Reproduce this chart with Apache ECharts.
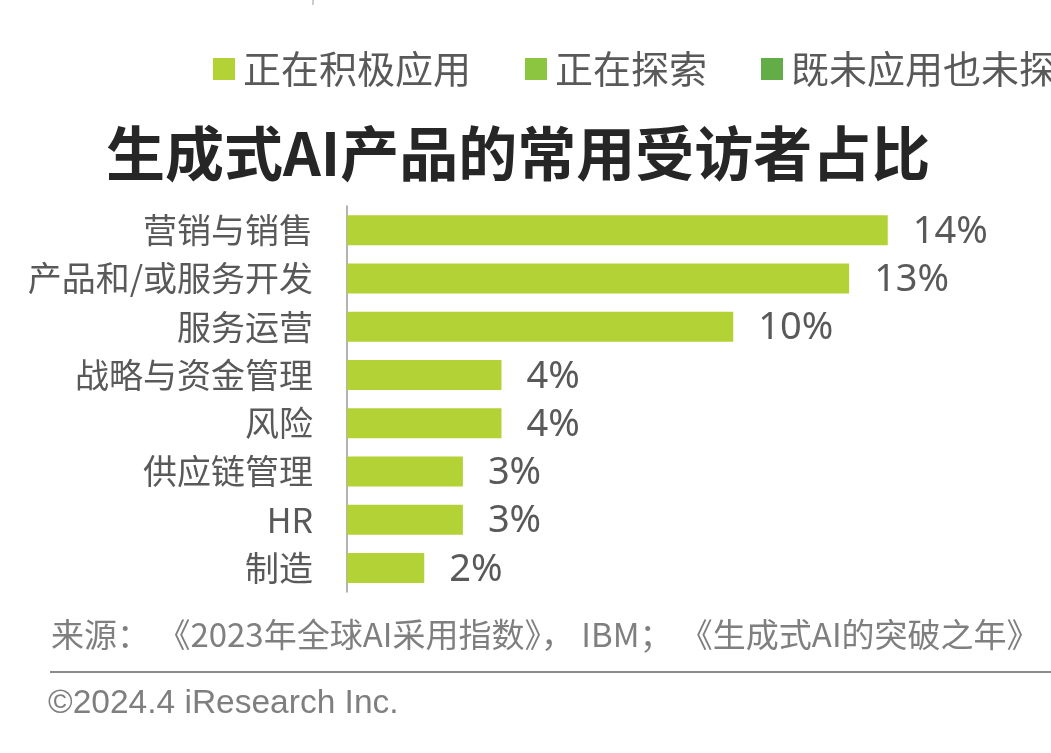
<!DOCTYPE html>
<html>
<head>
<meta charset="utf-8">
<script src="https://cdn.jsdelivr.net/npm/echarts@6/dist/echarts.min.js"></script>
<style>
  html, body { margin: 0; padding: 0; background: #fff; }
  #chart { width: 1051px; height: 753px; }
</style>
</head>
<body>
<div id="chart"></div>
<script>
// categories, top to bottom
var categories = ['营销与销售', '产品和/或服务开发', '服务运营', '战略与资金管理', '风险', '供应链管理', 'HR', '制造']
// share of respondents, %
var activeValues = [14, 13, 10, 4, 4, 3, 3, 2]
var legendNames = ['正在积极应用', '正在探索', '既未应用也未探索']
var legendColors = ['#b3d235', '#8cc540', '#62ad47']

var gray = '#595959'
var cjk = '"Noto Sans CJK SC", "Noto Sans", sans-serif'

var dom = echarts.init(document.getElementById('chart'))

var option = {
  backgroundColor: '#fff',
  animation: false,
  textStyle: { fontFamily: cjk },
  title: {
    text: '生成式AI产品的常用受访者占比',
    left: 101,
    top: 119,
    textStyle: {
      fontSize: 59,
      fontWeight: 'bold',
      color: '#262626',
      fontFamily: cjk
    }
  },
  legend: {
    data: legendNames,
    left: 213,
    top: 50,
    width: 1500,
    padding: 0,
    icon: 'rect',
    itemWidth: 22,
    itemHeight: 22,
    itemGap: 54,
    textStyle: {
      fontSize: 38,
      color: gray,
      padding: [0, 0, 0, 3]
    }
  },
  grid: {
    left: 347,
    top: 206,
    width: 618,
    height: 386,
    containLabel: false
  },
  xAxis: {
    type: 'value',
    min: 0,
    max: 16,
    show: false
  },
  yAxis: {
    type: 'category',
    inverse: true,
    data: categories,
    axisLine: { show: true, lineStyle: { color: '#9a9a9a', width: 1.5 } },
    axisTick: { show: false },
    axisLabel: { margin: 34, fontSize: 34, color: gray }
  },
  series: [
    {
      name: legendNames[0],
      type: 'bar',
      stack: 'all',
      barWidth: 30,
      itemStyle: { color: legendColors[0] },
      label: {
        show: true,
        position: 'right',
        distance: 25,
        formatter: '{c}%',
        fontSize: 38,
        color: gray,
        fontFamily: '"Noto Sans", sans-serif',
        offset: [0, 2]
      },
      data: activeValues
    },
    {
      name: legendNames[1],
      type: 'bar',
      stack: 'all',
      barWidth: 30,
      itemStyle: { color: legendColors[1] },
      data: []
    },
    {
      name: legendNames[2],
      type: 'bar',
      stack: 'all',
      barWidth: 30,
      itemStyle: { color: legendColors[2] },
      data: []
    }
  ],
  graphic: [
    {
      type: 'line',
      shape: { x1: 313, y1: 0, x2: 313, y2: 5 },
      style: { stroke: '#9a9a9a', lineWidth: 1 }
    },
    {
      type: 'text',
      left: 51,
      top: 618,
      style: {
        text: '来源： 《2023年全球AI采用指数》， IBM； 《生成式AI的突破之年》',
        fontSize: 33,
        fill: '#7f7f7f',
        fontFamily: cjk
      }
    },
    {
      type: 'line',
      shape: { x1: 50, y1: 672, x2: 1051, y2: 672 },
      style: { stroke: '#8c8c8c', lineWidth: 2 }
    },
    {
      type: 'text',
      left: 48,
      top: 687,
      style: {
        text: '©2024.4 iResearch Inc.',
        fontSize: 33.5,
        fill: '#7f7f7f',
        fontFamily: '"Liberation Sans", Arial, sans-serif'
      }
    }
  ]
}

dom.setOption(option)
window.addEventListener('resize', function () { dom.resize() })
</script>
</body>
</html>
